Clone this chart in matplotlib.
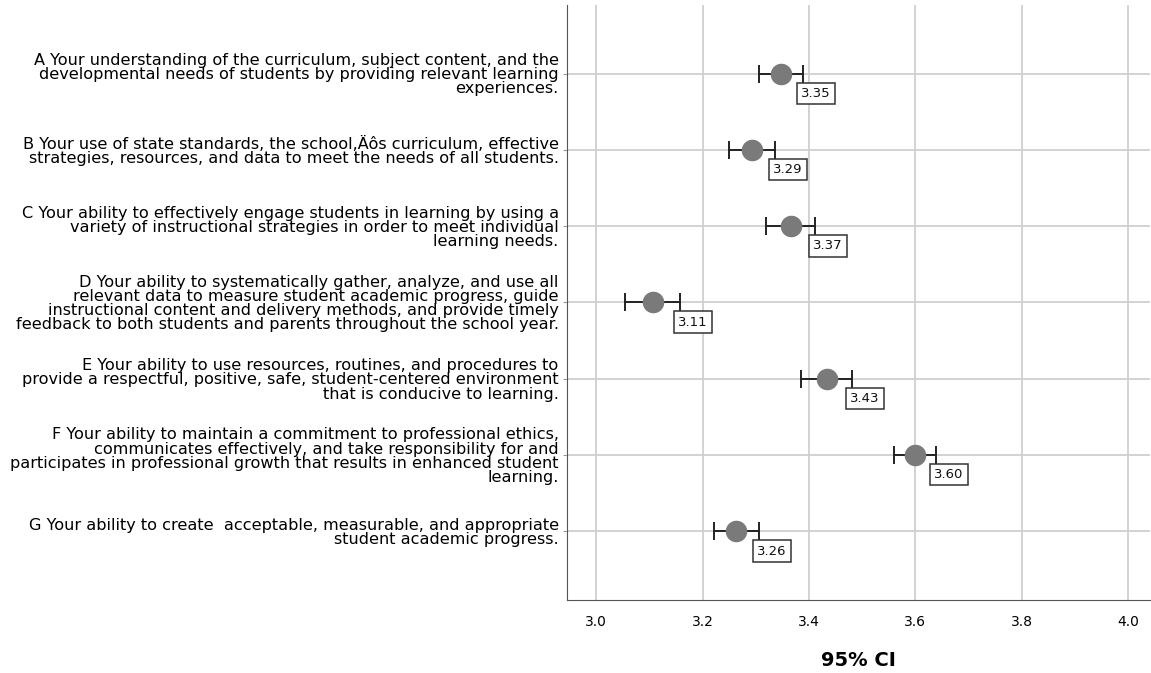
import matplotlib.pyplot as plt
import numpy as np

# survey items (top to bottom)
items = [
    "A Your understanding of the curriculum, subject content, and the\ndevelopmental needs of students by providing relevant learning\nexperiences.",
    "B Your use of state standards, the school,\u00c4\u00f4s curriculum, effective\nstrategies, resources, and data to meet the needs of all students.",
    "C Your ability to effectively engage students in learning by using a\nvariety of instructional strategies in order to meet individual\nlearning needs.",
    "D Your ability to systematically gather, analyze, and use all\nrelevant data to measure student academic progress, guide\ninstructional content and delivery methods, and provide timely\nfeedback to both students and parents throughout the school year.",
    "E Your ability to use resources, routines, and procedures to\nprovide a respectful, positive, safe, student-centered environment\nthat is conducive to learning.",
    "F Your ability to maintain a commitment to professional ethics,\ncommunicates effectively, and take responsibility for and\nparticipates in professional growth that results in enhanced student\nlearning.",
    "G Your ability to create  acceptable, measurable, and appropriate\nstudent academic progress.",
]
means = [3.348, 3.293, 3.366, 3.107, 3.434, 3.600, 3.263]
lower = [3.306, 3.249, 3.320, 3.055, 3.385, 3.560, 3.221]
upper = [3.389, 3.336, 3.412, 3.158, 3.481, 3.639, 3.306]
xticks = [3.0, 3.2, 3.4, 3.6, 3.8, 4.0]

plt.rcParams['font.family'] = ['DejaVu Sans']

fig = plt.figure(figsize=(11.51, 6.73), dpi=100)
ax = fig.add_axes([0.4926, 0.1085, 0.5064, 0.8841])

ypos = np.arange(len(items))
means = np.array(means)
err = np.vstack([means - np.array(lower), np.array(upper) - means])

ax.errorbar(means, ypos, xerr=err, fmt='none', ecolor='#222222',
            elinewidth=1.4, capsize=6.5, capthick=1.4, zorder=3)
ax.plot(means, ypos, 'o', color='#7a7a7a', markersize=14.5, zorder=4)

for m, u, y in zip(means, upper, ypos):
    ax.annotate(f"{m:.2f}", xy=(u, y), xytext=(-1.5, -9.5), textcoords='offset points',
                ha='left', va='top', fontsize=9.5, color='#111111',
                bbox=dict(boxstyle='square,pad=0.32', fc='white', ec='#333333', lw=1.1),
                zorder=5)

ax.set_xlim(2.945, 4.041)
ax.set_ylim(len(items) - 1 + 0.9, -0.9)
ax.set_xticks(xticks)
ax.set_xticklabels([f"{t:.1f}" for t in xticks], fontsize=10)
ax.set_yticks(ypos)
ax.set_yticklabels(items, fontsize=11.6, linespacing=0.93)

ax.grid(True, color='#cfcfcf', lw=1.3, zorder=0)
ax.set_axisbelow(True)
for s in ['top', 'right']:
    ax.spines[s].set_visible(False)
ax.spines['left'].set_color('#555555')
ax.spines['bottom'].set_color('#555555')
ax.tick_params(axis='x', length=0, pad=11)
ax.tick_params(axis='y', length=3, color='#999999', pad=3)

ax.set_xlabel("95% CI", fontsize=14, fontweight='bold', labelpad=16)

fig.savefig("out.png", dpi=100)
